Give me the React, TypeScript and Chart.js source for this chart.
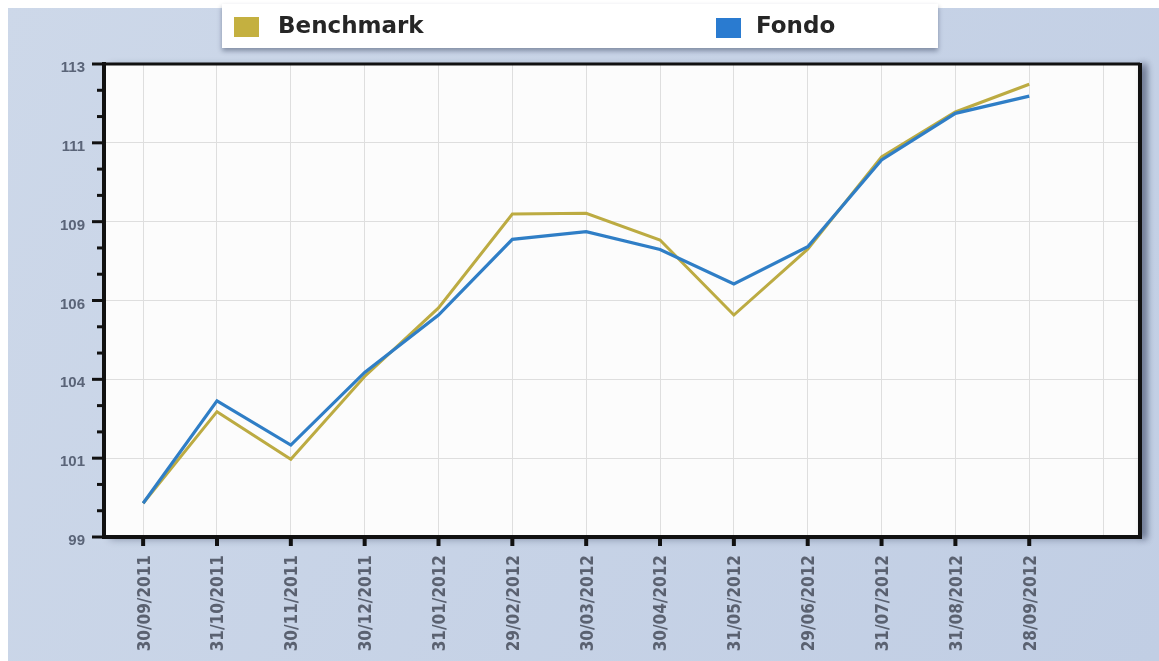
import React, { useEffect, useRef } from "react";
import { Chart, registerables } from "chart.js";

Chart.register(...registerables);

const categories = [
  "30/09/2011", "31/10/2011", "30/11/2011", "30/12/2011", "31/01/2012", "29/02/2012",
  "30/03/2012", "30/04/2012", "31/05/2012", "29/06/2012", "31/07/2012", "31/08/2012", "28/09/2012",
];
const benchmark = [100.0, 102.71, 101.3, 103.75, 105.78, 108.56, 108.58, 107.79, 105.57, 107.52, 110.25, 111.58, 112.4];
const fondo = [100.0, 103.03, 101.72, 103.87, 105.57, 107.81, 108.04, 107.51, 106.49, 107.59, 110.16, 111.54, 112.05];
const yTickLabels = ["99", "101", "104", "106", "109", "111", "113"];
const seriesNames = ["Benchmark", "Fondo"];

const Y_MIN = 99;
const Y_MAX = 113;
const MINOR_PER_MAJOR = 3;

const BENCH_COLOR = "#bcab42";
const FONDO_COLOR = "#2f7ec6";

const framePlugin = {
  id: "frame",
  beforeDraw(chart: any) {
    const { ctx, chartArea: a, width, height } = chart;
    ctx.save();
    ctx.fillStyle = "#ffffff";
    ctx.fillRect(0, 0, width, height);
    const g = ctx.createLinearGradient(0, 0, width, height);
    g.addColorStop(0, "#cdd8e9");
    g.addColorStop(1, "#c1cee4");
    ctx.fillStyle = g;
    ctx.fillRect(8, 8, width - 8, height - 8);
    // plot area with shadow
    ctx.save();
    ctx.shadowColor = "rgba(40,50,80,0.45)";
    ctx.shadowBlur = 8;
    ctx.shadowOffsetX = 6;
    ctx.shadowOffsetY = 2;
    ctx.fillStyle = "#fcfcfc";
    ctx.fillRect(a.left, a.top, a.right - a.left, a.bottom - a.top);
    ctx.restore();
    // legend box
    ctx.save();
    ctx.shadowColor = "rgba(40,50,80,0.45)";
    ctx.shadowBlur = 5;
    ctx.shadowOffsetY = 3;
    ctx.fillStyle = "#ffffff";
    ctx.fillRect(222, 4, 716, 44);
    ctx.restore();
    ctx.font = 'bold 23px "DejaVu Sans", sans-serif';
    ctx.textBaseline = "middle";
    ctx.textAlign = "left";
    ctx.fillStyle = "#c4b040";
    ctx.fillRect(234, 17, 25, 20);
    ctx.fillStyle = "#262626";
    ctx.fillText(seriesNames[0], 278, 27);
    ctx.fillStyle = "#2a7bd0";
    ctx.fillRect(716, 18, 25, 20);
    ctx.fillStyle = "#262626";
    ctx.fillText(seriesNames[1], 756, 27);
    ctx.restore();
  },
  afterDatasetsDraw(chart: any) {
    const { ctx, chartArea: a } = chart;
    const ys = chart.scales.y;
    const xs = chart.scales.x;
    ctx.save();
    ctx.strokeStyle = "#111111";
    // top border
    ctx.lineWidth = 3;
    ctx.beginPath();
    ctx.moveTo(a.left, a.top);
    ctx.lineTo(a.right, a.top);
    ctx.stroke();
    // right border with shadow
    ctx.save();
    ctx.shadowColor = "rgba(40,50,80,0.5)";
    ctx.shadowBlur = 6;
    ctx.shadowOffsetX = 4;
    ctx.lineWidth = 4;
    ctx.beginPath();
    ctx.moveTo(a.right, a.top - 1);
    ctx.lineTo(a.right, a.bottom + 2);
    ctx.stroke();
    ctx.restore();
    // left axis
    ctx.lineWidth = 4;
    ctx.beginPath();
    ctx.moveTo(a.left, a.top - 2);
    ctx.lineTo(a.left, a.bottom + 2);
    ctx.stroke();
    // bottom axis
    ctx.beginPath();
    ctx.moveTo(a.left - 2, a.bottom);
    ctx.lineTo(a.right + 2, a.bottom);
    ctx.stroke();
    // y tick marks
    ctx.lineWidth = 3;
    ys.ticks.forEach((t: any, i: number) => {
      const y = ys.getPixelForValue(t.value);
      const len = i % MINOR_PER_MAJOR === 0 ? 12 : 7;
      ctx.beginPath();
      ctx.moveTo(a.left - len, y);
      ctx.lineTo(a.left, y);
      ctx.stroke();
    });
    // x tick marks
    ctx.lineWidth = 4;
    categories.forEach((_c, i) => {
      const x = xs.getPixelForValue(i);
      ctx.beginPath();
      ctx.moveTo(x, a.bottom);
      ctx.lineTo(x, a.bottom + 9);
      ctx.stroke();
    });
    ctx.restore();
  },
};

export default function App() {
  const ref = useRef<HTMLCanvasElement | null>(null);
  useEffect(() => {
    if (!ref.current) return;
    const majorStep = (Y_MAX - Y_MIN) / (yTickLabels.length - 1);
    const minorStep = majorStep / MINOR_PER_MAJOR;
    const nMinor = (yTickLabels.length - 1) * MINOR_PER_MAJOR;
    const chart = new Chart(ref.current, {
      type: "line",
      data: {
        datasets: [
          {
            label: seriesNames[0],
            data: benchmark.map((v, i) => ({ x: i, y: v })),
            borderColor: BENCH_COLOR,
            borderWidth: 3,
            pointRadius: 0,
            tension: 0,
            order: 2,
          },
          {
            label: seriesNames[1],
            data: fondo.map((v, i) => ({ x: i, y: v })),
            borderColor: FONDO_COLOR,
            borderWidth: 3.2,
            pointRadius: 0,
            tension: 0,
            order: 1,
          },
        ],
      },
      options: {
        responsive: false,
        animation: false,
        layout: { padding: { top: 64, right: 19, left: 0, bottom: 0 } },
        plugins: { legend: { display: false }, tooltip: { enabled: false } },
        scales: {
          x: {
            type: "linear",
            min: -0.53,
            max: 13.5,
            afterBuildTicks: (scale: any) => {
              scale.ticks = Array.from({ length: categories.length + 1 }, (_, i) => ({ value: i }));
            },
            afterFit: (scale: any) => {
              scale.height = 124;
            },
            border: { display: false },
            grid: {
              color: "#dedede",
              lineWidth: 1,
              tickLength: 8,
              tickColor: "transparent",
            },
            ticks: {
              autoSkip: false,
              maxRotation: 90,
              minRotation: 90,
              padding: 10,
              labelOffset: 2,
              color: "#5a6170",
              font: { family: '"DejaVu Sans Condensed", "DejaVu Sans", sans-serif', size: 17, weight: "bold" },
              callback: (v: any) => categories[v] ?? "",
            },
          },
          y: {
            type: "linear",
            min: Y_MIN,
            max: Y_MAX,
            afterBuildTicks: (scale: any) => {
              scale.ticks = Array.from({ length: nMinor + 1 }, (_, k) => ({ value: Y_MIN + k * minorStep }));
            },
            afterFit: (scale: any) => {
              scale.width = 104;
            },
            border: { display: false },
            grid: {
              color: (c: any) => (c.index % MINOR_PER_MAJOR === 0 ? "#dedede" : "transparent"),
              lineWidth: 1,
              tickLength: 10,
              tickColor: "transparent",
            },
            ticks: {
              autoSkip: false,
              padding: 9,
              labelOffset: 4,
              color: "#5a6478",
              font: { family: '"Liberation Sans", Arial, sans-serif', size: 15, weight: "bold" },
              callback: (_v: any, i: number) =>
                i % MINOR_PER_MAJOR === 0 ? yTickLabels[i / MINOR_PER_MAJOR] : "",
            },
          },
        },
      },
      plugins: [framePlugin],
    });
    return () => chart.destroy();
  }, []);
  return (
    <div style={{ position: "fixed", left: 0, top: 0, width: 1159, height: 661 }}>
      <canvas ref={ref} width={1159} height={661} style={{ display: "block" }} />
    </div>
  );
}
